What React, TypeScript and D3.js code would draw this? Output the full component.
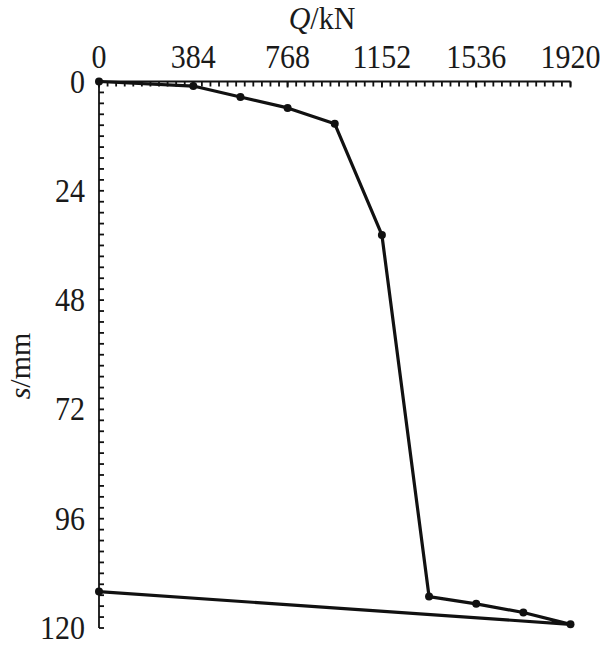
import React from "react";
import * as d3 from "d3";

const loadKN = [0, 384, 576, 768, 960, 1152, 1344, 1536, 1728, 1920, 0];
const settleMM = [0, 1.0, 3.4, 5.8, 9.3, 33.7, 113.1, 114.7, 116.6, 119.2, 112.0];
const xTicks = [0, 384, 768, 1152, 1536, 1920];
const yTicks = [0, 24, 48, 72, 96, 120];

const W = 606;
const H = 645;
const left = 99;
const right = 570.5;
const top = 81.5;
const bottom = 628;
const FONT = "'Liberation Serif', 'Times New Roman', serif";

export default function App() {
  const x = d3.scaleLinear().domain([0, 1920]).range([left, right]);
  const y = d3.scaleLinear().domain([0, 120]).range([top, bottom]);
  const pts = loadKN.map((q, i) => [q, settleMM[i]] as [number, number]);
  const line = d3
    .line<[number, number]>()
    .x((d) => x(d[0]))
    .y((d) => y(d[1]));

  const xMinor = d3.range(0, 1920 + 0.001, 384 / 11);
  const yMinor = d3.range(0, 120 + 0.001, 2.4);

  return (
    <svg
      width={W}
      height={H}
      style={{ position: "absolute", left: 0, top: 0, background: "#fff" }}
    >
      <g stroke="#111" strokeWidth={1.8} fill="none">
        <line x1={left} y1={top} x2={right} y2={top} />
        <line x1={left} y1={top} x2={left} y2={bottom} />
        {xMinor.map((v, i) => (
          <line key={"xm" + i} x1={x(v)} x2={x(v)} y1={top} y2={top + 5} />
        ))}
        {xTicks.map((v, i) => (
          <line key={"xt" + i} x1={x(v)} x2={x(v)} y1={top} y2={top + 6} />
        ))}
        {yMinor.map((v, i) => (
          <line key={"ym" + i} x1={left} x2={left + 5} y1={y(v)} y2={y(v)} />
        ))}
      </g>
      <g fontFamily={FONT} fontSize={30} fill="#1a1a1a">
        {xTicks.map((v, i) => (
          <g key={"xl" + i} transform={`translate(${x(v)},68) scale(1,1.1)`}>
            <text x={0} y={0} textAnchor="middle">
              {v}
            </text>
          </g>
        ))}
        {yTicks.map((v, i) => (
          <g key={"yl" + i} transform={`translate(85,${y(v) + 11}) scale(1,1.1)`}>
            <text x={0} y={0} textAnchor="end">
              {v}
            </text>
          </g>
        ))}
        <g transform="translate(322,29) scale(1,1.08)">
          <text x={0} y={0} textAnchor="middle">
            <tspan fontStyle="italic">Q</tspan>
            <tspan>/kN</tspan>
          </text>
        </g>
        <text transform={`translate(30, 366) rotate(-90)`} textAnchor="middle">
          <tspan fontStyle="italic">s</tspan>
          <tspan>/mm</tspan>
        </text>
      </g>
      <path
        d={line(pts) || ""}
        fill="none"
        stroke="#111"
        strokeWidth={3.2}
        strokeLinejoin="round"
      />
      {pts.map((d, i) => (
        <circle key={"p" + i} cx={x(d[0])} cy={y(d[1])} r={4} fill="#111" />
      ))}
    </svg>
  );
}
